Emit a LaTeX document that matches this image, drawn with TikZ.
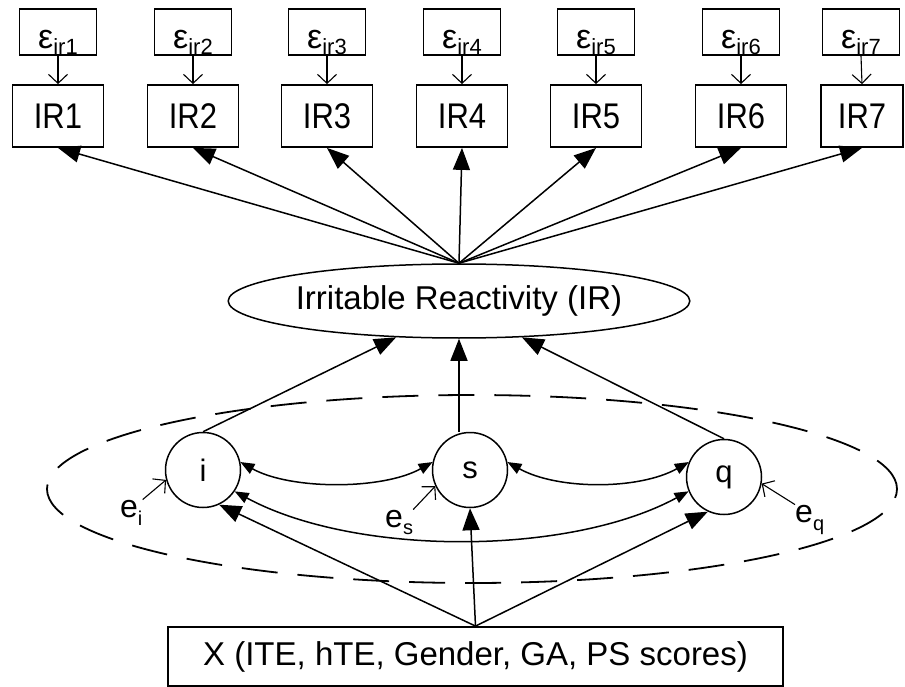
\documentclass[tikz,border=0pt]{standalone}
\usepackage{fontspec}
\setmainfont{Liberation Sans}
\usetikzlibrary{arrows.meta,shapes.geometric,calc}
\newcommand\epstxt[1]{{\fontsize{34}{34}\selectfont ε}\raisebox{-6pt}{\fontsize{22}{22}\selectfont ir#1}}
\newcommand\errtxt[2]{e\raisebox{-#2}{\fontsize{20}{20}\selectfont #1}}
\newcommand\irtxt[1]{\scalebox{1}[1.15]{IR#1}}
\begin{document}
\begin{tikzpicture}[x=1pt,y=-1pt,
  epsbox/.style={draw, line width=1.8pt, minimum width=77pt, minimum height=46pt, inner sep=0pt, text height=34pt, text depth=0pt},
  irbox/.style={draw, line width=1.8pt, minimum width=91pt, minimum height=62pt, inner sep=0pt, font=\fontsize{31}{31}\selectfont},
  latent/.style={draw, circle, line width=1.5pt, minimum size=75pt, inner sep=0pt, font=\fontsize{31}{31}\selectfont},
  irell/.style={draw, ellipse, line width=1.5pt, minimum width=428pt, minimum height=74pt, inner sep=0pt, font=\fontsize{33}{33}\selectfont},
  xbox/.style={draw, line width=1.8pt, minimum width=615pt, minimum height=59pt, inner sep=0pt, font=\fontsize{33}{33}\selectfont},
  bigarrow/.style={-{Triangle[length=22pt,width=17pt]}, line width=1.5pt},
  dblarrow/.style={{Triangle[length=14pt,width=11pt]}-{Triangle[length=14pt,width=11pt]}, line width=1.5pt},
  barb/.style={-{Straight Barb[length=9pt,width=19pt]}, line width=1.1pt},
  errlab/.style={inner sep=0pt, anchor=base west, font=\fontsize{32}{32}\selectfont},
  dashell/.style={line width=1.8pt, dash pattern=on 36pt off 20pt},
]
\useasboundingbox (0,0) rectangle (905,687);

% dashed grouping ellipse
\draw[dashell] (472,489) ellipse [x radius=425pt, y radius=94pt];

% top error boxes and indicators
\foreach \k/\x in {1/58,2/193,3/327,4/462,5/596,6/741} {
  \node[epsbox] (E\k) at (\x,32) {\epstxt{\k}};
  \node[irbox] (R\k) at (\x,116) {\irtxt{\k}};
}
\node[epsbox] (E7) at (861,32) {\epstxt{7}};
\node[irbox, minimum width=82pt] (R7) at (862,116) {\irtxt{7}};

% latent factor
\node[irell] (IR) at (459,301) {Irritable Reactivity (IR)};

% growth factors
\node[latent] (i) at (203,470) {i};
\node[latent] (s) at (470,470) {s};
\node[latent] (q) at (724,477) {q};

% covariates
\node[xbox] (X) at (475.5,656.5) {X (ITE, hTE, Gender, GA, PS scores)};

% error labels
\node[errlab] (ei) at (120,517) {\errtxt{i}{8pt}};
\node[errlab] (es) at (385,527) {\errtxt{s}{7pt}};
\node[errlab] (eq) at (795,522) {\errtxt{q}{8pt}};

% connectors
\foreach \k in {1,...,7} {
  \draw[barb] (E\k.south) -- (R\k.north);
  \draw[bigarrow] (IR.north) -- (R\k.south);
}
\draw[bigarrow] (i.north) -- (IR.210);
\draw[bigarrow] (IR.south |- s.north) -- (IR.south);
\draw[bigarrow] (q.north) -- (IR.330);

\draw[bigarrow] (X.north) -- (i.-65);
\draw[bigarrow] (X.north) -- (s.south);
\draw[bigarrow] (X.north) -- (q.245);

\draw[dblarrow] (i.12) .. controls +(50,28) and +(-50,28) .. (s.168);
\draw[dblarrow] (s.12) .. controls +(50,28) and +(-50,28) .. (q.157);
\draw[dblarrow] (i.-34) .. controls +(120,65) and +(-120,65) .. (q.202);

\draw[barb] (ei.north east) -- (i.195);
\draw[barb] (es.north east) -- (s.205);
\draw[barb] (eq.north west) -- (q.-10);
\end{tikzpicture}
\end{document}
